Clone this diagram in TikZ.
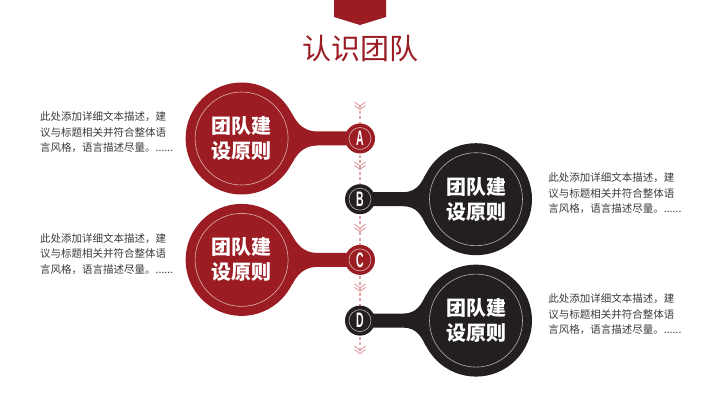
\documentclass[tikz,border=0pt]{standalone}
\usepackage{fontspec}
\usepackage{graphicx}
\usetikzlibrary{positioning, backgrounds}
\newfontfamily\cjk{Noto Sans CJK SC}
\newfontfamily\letterfont{Liberation Sans}
\definecolor{teamred}{HTML}{9B1D23}
\definecolor{teamblack}{HTML}{231F20}
\definecolor{dashpink}{HTML}{E2A3A8}
\definecolor{desctext}{HTML}{3A3A3A}

\begin{document}
\begin{tikzpicture}[x=1pt, y=1pt, node distance=60.7pt,
    bigcircle/.style={circle, minimum size=112pt, inner sep=0pt, text=white, align=center,
        font=\cjk\bfseries\fontsize{20}{25}\selectfont,
        path picture={\draw[ring] (path picture bounding box.center) circle (46.5pt);}},
    smallcircle/.style={circle, minimum size=30pt, inner sep=0pt, text=white,
        font=\letterfont\bfseries\fontsize{21}{21}\selectfont,
        path picture={\draw[ring] (path picture bounding box.center) circle (11pt);}},
    ring/.style={draw=white, line width=0.6pt, opacity=0.65},
    desc/.style={align=left, inner sep=0pt, text=desctext, font=\cjk\fontsize{10.5}{15.5}\selectfont},
    guide/.style={draw=dashpink, line width=1.2pt, dash pattern=on 3pt off 2.5pt},
    chevron/.style={draw=dashpink, line width=1pt}]

    \useasboundingbox (0,0) rectangle (720,405);

    % banner and title
    \fill[teamred] (334,405) -- (334,388) -- (360,380) -- (386,388) -- (386,405) -- cycle;
    \node[font=\cjk\fontsize{29}{29}\selectfont, text=teamred] (title) at (360,356) {认识团队};

    % small circles on the guide
    \node[smallcircle, fill=teamred] (a) at (360,266.5) {\scalebox{0.5}[1]{A}};
    \node[smallcircle, fill=teamblack, below of=a] (b) {\scalebox{0.5}[1]{B}};
    \node[smallcircle, fill=teamred, below of=b] (c) {\scalebox{0.5}[1]{C}};
    \node[smallcircle, fill=teamblack, below of=c] (d) {\scalebox{0.5}[1]{D}};

    % big circles
    \node[bigcircle, fill=teamred, left of=a, xshift=-57.7pt] (p1) {团队建\\设原则};
    \node[bigcircle, fill=teamblack, right of=b, xshift=55.3pt] (p2) {团队建\\设原则};
    \node[bigcircle, fill=teamred, left of=c, xshift=-57.7pt] (p3) {团队建\\设原则};
    \node[bigcircle, fill=teamblack, right of=d, xshift=55.3pt] (p4) {团队建\\设原则};

    % descriptions
    \node[desc, left=12pt of p1, yshift=6pt] (t1) {此处添加详细文本描述，建\\议与标题相关并符合整体语\\言风格，语言描述尽量。......};
    \node[desc, right=16pt of p2, yshift=6pt] (t2) {此处添加详细文本描述，建\\议与标题相关并符合整体语\\言风格，语言描述尽量。......};
    \node[desc, left=12pt of p3, yshift=6pt] (t3) {此处添加详细文本描述，建\\议与标题相关并符合整体语\\言风格，语言描述尽量。......};
    \node[desc, right=16pt of p4, yshift=6pt] (t4) {此处添加详细文本描述，建\\议与标题相关并符合整体语\\言风格，语言描述尽量。......};

    % necks and dashed guide behind the circles
    \begin{scope}[on background layer]
        \draw[guide] ([yshift=33pt]a.center) -- ([yshift=-30pt]d.center);
        \fill[teamred] (p1.27) .. controls +(-63:10) and +(-14,0) .. ([shift={(-43pt,7pt)}]a.center)
            -- ([shift={(-10pt,7pt)}]a.center) -- ([shift={(-10pt,-7pt)}]a.center)
            -- ([shift={(-43pt,-7pt)}]a.center) .. controls +(-14,0) and +(63:10) .. (p1.-27) -- cycle;
        \fill[teamblack] (p2.153) .. controls +(-117:10) and +(14,0) .. ([shift={(43pt,7pt)}]b.center)
            -- ([shift={(10pt,7pt)}]b.center) -- ([shift={(10pt,-7pt)}]b.center)
            -- ([shift={(43pt,-7pt)}]b.center) .. controls +(14,0) and +(117:10) .. (p2.-153) -- cycle;
        \fill[teamred] (p3.27) .. controls +(-63:10) and +(-14,0) .. ([shift={(-43pt,7pt)}]c.center)
            -- ([shift={(-10pt,7pt)}]c.center) -- ([shift={(-10pt,-7pt)}]c.center)
            -- ([shift={(-43pt,-7pt)}]c.center) .. controls +(-14,0) and +(63:10) .. (p3.-27) -- cycle;
        \fill[teamblack] (p4.153) .. controls +(-117:10) and +(14,0) .. ([shift={(43pt,7pt)}]d.center)
            -- ([shift={(10pt,7pt)}]d.center) -- ([shift={(10pt,-7pt)}]d.center)
            -- ([shift={(43pt,-7pt)}]d.center) .. controls +(14,0) and +(117:10) .. (p4.-153) -- cycle;
    \end{scope}

    % chevrons
    \foreach \n/\dy in {a/36.5, a/-23.5, b/-25, c/-24, d/-25.5} {
        \draw[chevron] ([shift={(-5.5pt,\dy pt)}]\n.center) -- ++(5.5,-4) -- ++(5.5,4);
        \draw[chevron] ([shift={(-5.5pt,\dy pt-3.5pt)}]\n.center) -- ++(5.5,-4) -- ++(5.5,4);
    }
\end{tikzpicture}
\end{document}
